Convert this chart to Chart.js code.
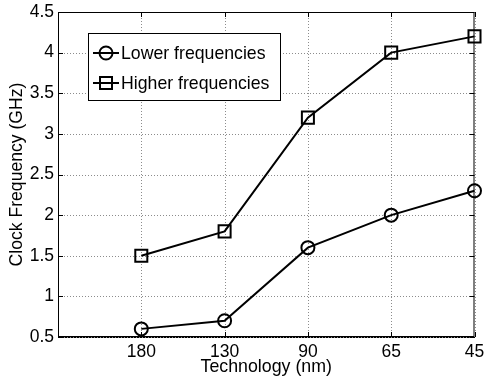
<!DOCTYPE html>
<html>
<head>
<meta charset="utf-8">
<script src="https://cdn.jsdelivr.net/npm/chart.js@4"></script>
<style>
  html, body { margin: 0; padding: 0; background: #fff; }
  #wrap { width: 485px; height: 380px; }
</style>
</head>
<body>
<div id="wrap"><canvas id="freqchart" width="485" height="380"></canvas></div>
<script>
// data
const techLabels = ['180', '130', '90', '65', '45'];
const lowerFreq = [0.6, 0.7, 1.6, 2.0, 2.3];
const higherFreq = [1.5, 1.8, 3.2, 4.0, 4.2];
const seriesNames = ['Lower frequencies', 'Higher frequencies'];

const fontFam = '"Liberation Sans", Arial, Helvetica, sans-serif';

function toPoints(arr) {
    return arr.map((v, i) => ({ x: i + 1, y: v }));
}

// dotted grid, frame on all four sides + inward tick marks (matlab look)
const framePlugin = {
    id: 'frame',
    beforeDatasetsDraw(chart) {
        const ctx = chart.ctx;
        const a = chart.chartArea;
        const xs = chart.scales.x, ys = chart.scales.y;
        ctx.save();
        // grid
        ctx.strokeStyle = '#8c8c8c';
        ctx.lineWidth = 1;
        ctx.setLineDash([1, 2]);
        ctx.beginPath();
        ys.ticks.forEach(t => {
            const y = Math.round(ys.getPixelForValue(t.value)) + 0.5;
            ctx.moveTo(a.left, y); ctx.lineTo(a.right, y);
        });
        xs.ticks.forEach(t => {
            const x = Math.round(xs.getPixelForValue(t.value)) + 0.5;
            ctx.moveTo(x, a.top); ctx.lineTo(x, a.bottom);
        });
        ctx.stroke();
        ctx.setLineDash([]);
        // box
        ctx.strokeStyle = '#000';
        ctx.strokeRect(a.left + 0.5, a.top + 0.5, a.right - a.left - 1, a.bottom - a.top - 1);
        ctx.beginPath();
        const tl = 5;
        ys.ticks.forEach(t => {
            const y = Math.round(ys.getPixelForValue(t.value)) + 0.5;
            ctx.moveTo(a.left, y); ctx.lineTo(a.left + tl, y);
            ctx.moveTo(a.right, y); ctx.lineTo(a.right - tl, y);
        });
        xs.ticks.forEach(t => {
            const x = Math.round(xs.getPixelForValue(t.value)) + 0.5;
            ctx.moveTo(x, a.bottom); ctx.lineTo(x, a.bottom - tl);
            ctx.moveTo(x, a.top); ctx.lineTo(x, a.top + tl);
        });
        ctx.stroke();
        ctx.restore();
    }
};

// legend box inside the plot
const boxLegend = {
    id: 'boxLegend',
    afterDraw(chart) {
        const ctx = chart.ctx;
        const bx = 88.5, by = 33.5, bw = 192, bh = 67;
        ctx.save();
        ctx.fillStyle = '#fff';
        ctx.fillRect(bx, by, bw, bh);
        ctx.strokeStyle = '#000';
        ctx.lineWidth = 1;
        ctx.strokeRect(bx, by, bw, bh);
        chart.data.datasets.forEach((ds, i) => {
            const cy = 53 + i * 30;
            ctx.strokeStyle = '#000';
            ctx.lineWidth = 2;
            ctx.beginPath();
            ctx.moveTo(93, cy); ctx.lineTo(119, cy);
            ctx.stroke();
            ctx.beginPath();
            if (ds.pointStyle === 'circle') {
                ctx.arc(106, cy, 6.5, 0, Math.PI * 2);
            } else {
                ctx.rect(100, cy - 6, 12, 12);
            }
            ctx.stroke();
            ctx.fillStyle = '#000';
            ctx.font = '17.7px ' + fontFam;
            ctx.textBaseline = 'middle';
            ctx.textAlign = 'left';
            ctx.fillText(ds.label, 121, cy + 1);
        });
        ctx.restore();
    }
};

const ctx = document.getElementById('freqchart').getContext('2d');
const freqChart = new Chart(ctx, {
    type: 'line',
    data: {
        datasets: [{
            label: seriesNames[0],
            data: toPoints(lowerFreq),
            borderColor: '#000',
            backgroundColor: 'rgba(0,0,0,0)',
            borderWidth: 2,
            pointStyle: 'circle',
            pointRadius: 6.5,
            pointBorderWidth: 2,
            pointBackgroundColor: 'rgba(0,0,0,0)',
            pointBorderColor: '#000',
            tension: 0,
            clip: false
        }, {
            label: seriesNames[1],
            data: toPoints(higherFreq),
            borderColor: '#000',
            backgroundColor: 'rgba(0,0,0,0)',
            borderWidth: 2,
            pointStyle: 'rect',
            pointRadius: 8.5,
            pointBorderWidth: 2,
            pointBackgroundColor: 'rgba(0,0,0,0)',
            pointBorderColor: '#000',
            tension: 0,
            clip: false
        }]
    },
    options: {
        responsive: false,
        animation: false,
        layout: { padding: { top: 12, right: 7, left: 0, bottom: 0 } },
        plugins: {
            legend: { display: false },
            tooltip: { enabled: false }
        },
        scales: {
            x: {
                type: 'linear',
                min: 0,
                max: 5,
                ticks: {
                    stepSize: 1,
                    padding: 5,
                    color: '#000',
                    font: { family: fontFam, size: 17.5 },
                    maxRotation: 0,
                    callback: v => (v >= 1 && v <= techLabels.length) ? techLabels[v - 1] : ''
                },
                grid: { display: false, drawTicks: false },
                border: { display: true, color: '#000', width: 1 },
                title: {
                    display: true,
                    text: 'Technology (nm)',
                    color: '#000',
                    font: { family: fontFam, size: 17.8, lineHeight: 1.2 },
                    padding: { top: 0, bottom: 2 }
                },
                afterFit(scale) {
                    scale.height = 43;
                    scale.paddingLeft = 0;
                    scale.paddingRight = 0;
                }
            },
            y: {
                min: 0.5,
                max: 4.5,
                ticks: {
                    stepSize: 0.5,
                    padding: 4,
                    color: '#000',
                    font: { family: fontFam, size: 17.5 },
                    callback: v => String(v)
                },
                grid: { display: false, drawTicks: false },
                border: { display: true, color: '#000', width: 1 },
                title: {
                    display: true,
                    text: 'Clock Frequency (GHz)',
                    color: '#000',
                    font: { family: fontFam, size: 17.6, lineHeight: 1.2 },
                    padding: { top: 7, bottom: 0 }
                },
                afterFit(scale) {
                    scale.width = 58;
                    scale.paddingTop = 0;
                    scale.paddingBottom = 0;
                }
            }
        }
    },
    plugins: [framePlugin, boxLegend]
});
</script>
</body>
</html>
